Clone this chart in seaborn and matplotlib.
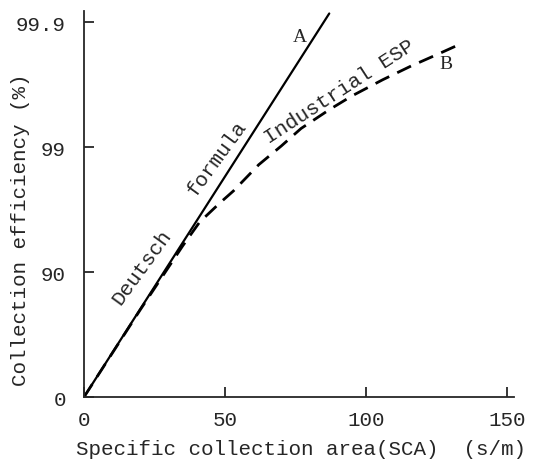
import numpy as np
import matplotlib
matplotlib.use("Agg")
import matplotlib.pyplot as plt
import seaborn as sns

# ---- data ----
# curve A: Deutsch formula (straight line on this efficiency scale)
sca_a = [0, 87]
eff_a = [0, 99.915]

# curve B: industrial ESP
sca_b = [0, 10, 20, 30, 35, 41, 48, 53, 62, 70, 77, 87, 95, 106, 116, 126, 133]
eff_b = [0, 55.33, 80.05, 90.88, 93.83, 96.02, 97.18, 97.76, 98.62, 99.023,
         99.292, 99.499, 99.611, 99.712, 99.776, 99.822, 99.849]

x_ticks = [0, 50, 100, 150]
y_ticks = [0, 90, 99, 99.9]
y_ticklabels = ["0", "90", "99", "99.9"]

sns.set_style("ticks")
plt.rcParams["font.family"] = ["Liberation Mono", "DejaVu Sans Mono"]
plt.rcParams["font.size"] = 15


def fwd(e):
    e = np.clip(np.asarray(e, dtype=float), -1e6, 99.99999)
    return -np.log10(1 - e / 100)


def inv(y):
    return 100 * (1 - 10 ** (-np.asarray(y, dtype=float)))


fig = plt.figure(figsize=(5.37, 4.64), dpi=100)
ax = fig.add_axes([0.1564, 0.1422, 0.8006, 0.8318])

sns.lineplot(x=sca_a, y=eff_a, ax=ax, color="black", linewidth=1.6)
sns.lineplot(x=sca_b, y=eff_b, ax=ax, color="black", linewidth=2.0)
ax.lines[-1].set_dashes([5.5, 3.2])

ax.set_yscale("function", functions=(fwd, inv))
ax.set_xlim(0, 152.5)
ax.set_ylim(0, float(inv(3.09)))
ax.set_xticks(x_ticks)
ax.set_yticks(y_ticks)
ax.set_yticklabels(y_ticklabels)
ax.minorticks_off()

for s in ["top", "right"]:
    ax.spines[s].set_visible(False)
for s in ["left", "bottom"]:
    ax.spines[s].set_linewidth(1.3)
ax.tick_params(axis="both", direction="in", length=7, width=1.3, labelsize=15)
ax.tick_params(axis="y", pad=13)
ax.tick_params(axis="x", pad=9)

ax.set_xlabel("Specific collection area(SCA)  (s/m)", fontsize=15)
ax.set_ylabel("Collection efficiency (%)", fontsize=15)
ax.xaxis.set_label_coords(0.505, -0.108)
ax.yaxis.set_label_coords(-0.125, 0.435)

txt = dict(transform=ax.transAxes, ha="center", va="center",
           rotation_mode="anchor", fontsize=15)
ax.text(0.135, 0.339, "Deutsch", rotation=54, **txt)
ax.text(0.310, 0.622, "formula", rotation=54, **txt)
ax.text(0.593, 0.793, "Industrial ESP", rotation=33, **txt)
ax.text(0.502, 0.935, "A", transform=ax.transAxes, ha="center", va="center",
        fontsize=14, family="Liberation Serif")
ax.text(0.842, 0.863, "B", transform=ax.transAxes, ha="center", va="center",
        fontsize=14, family="Liberation Serif")

fig.savefig("out.png", dpi=100, facecolor="white")
